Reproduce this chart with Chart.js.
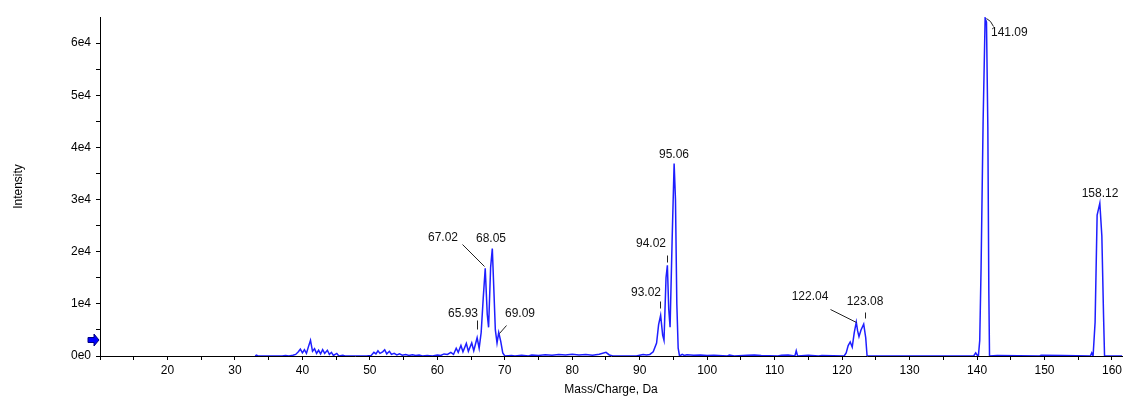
<!DOCTYPE html>
<html>
<head>
<meta charset="utf-8">
<script src="https://cdn.jsdelivr.net/npm/chart.js@4.4.1/dist/chart.umd.min.js"></script>
<style>
    html, body { margin: 0; padding: 0; background: #fff; }
    #wrap { width: 1125px; height: 397px; }
</style>
</head>
<body>
<div id="wrap"><canvas id="spectrumChart" width="1125" height="397"></canvas></div>
<script>
// profile spectrum (m/z, counts)
const mzValues = [
    33.0, 33.2, 33.4, 37.0, 37.5, 38.0, 38.6, 39.0, 39.4, 39.7, 40.0, 40.3, 40.6, 40.9, 41.2, 41.5,
    41.8, 42.1, 42.4, 42.7, 43.0, 43.3, 43.7, 44.0, 44.3, 44.6, 45.1, 45.4, 46.0, 46.3,
    49.5, 50.2, 50.6, 50.9, 51.2, 51.5, 51.9, 52.2, 52.5, 52.9, 53.2, 53.6, 54.0, 54.4, 54.8,
    55.3, 55.8, 56.3, 56.8, 57.3, 57.8, 58.5, 59.3,
    60.0, 60.5, 61.0, 61.5, 62.0, 62.4, 62.8, 63.1, 63.5, 63.8, 64.3, 64.6, 65.1, 65.4, 65.9,
    66.2, 66.5, 66.8, 67.1, 67.4, 67.6, 67.9, 68.15, 68.4, 68.6, 68.85, 69.1, 69.4, 69.7, 70.0,
    71.0, 71.5, 72.5, 73.5, 74.0, 75.0, 76.0, 77.0, 78.0, 79.0, 80.0, 81.0, 82.0, 83.0, 84.0,
    85.0, 85.5, 86.0, 89.5, 90.0, 90.5, 91.0, 91.5, 92.0, 92.5, 92.8, 93.1, 93.4, 93.6, 93.9,
    94.1, 94.3, 94.5, 94.8, 95.1, 95.3, 95.5, 95.7, 95.9, 96.3, 96.6, 97.0, 98.0, 99.0, 100.0,
    101.0, 103.0, 103.3, 104.0, 106.0, 107.0, 108.0, 110.5, 111.0, 112.0, 113.0, 113.2, 113.4,
    115.0, 116.5, 117.0, 120.3, 120.6, 120.9, 121.2, 121.5, 121.8, 122.1, 122.3, 122.5, 122.8,
    123.2, 123.5, 123.7, 126.0, 139.5, 139.8, 140.0, 140.2, 140.4, 140.6, 140.9, 141.2, 141.4,
    141.6, 141.75, 141.85, 143.0, 149.3, 149.5, 152.6, 156.8, 157.0, 157.2, 157.5, 157.8, 158.2,
    158.5, 158.75, 158.9, 161.5
];
const intensityValues = [
    0, 150, 0, 0, 100, 0, 150, 300, 800, 1300, 600, 1200, 500, 1800, 3000, 900,
    1400, 500, 1100, 400, 1200, 500, 1100, 300, 700, 100, 500, 0, 150, 0,
    0, 100, 700, 400, 1000, 500, 800, 1200, 400, 900, 300, 500, 200, 400, 150,
    300, 100, 250, 100, 200, 0, 100, 0,
    200, 100, 400, 300, 700, 300, 1500, 700, 2000, 800, 2400, 900, 2500, 1000, 3500,
    1500, 4500, 11000, 16800, 8000, 5500, 17000, 20600, 12000, 5000, 2500, 4500, 2800, 600, 0,
    100, 0, 150, 0, 200, 100, 250, 150, 300, 200, 350, 200, 300, 150, 350,
    700, 200, 0, 0, 150, 300, 200, 300, 800, 2500, 6000, 7800, 4000, 3000, 15000,
    17400, 9000, 5500, 22000, 36900, 30000, 10000, 1500, 0, 300, 100, 250, 150, 200, 100,
    150, 0, 200, 0, 150, 200, 100, 0, 150, 200, 0, 1000, 0,
    150, 0, 100, 0, 600, 2000, 2700, 1700, 4500, 6500, 4800, 3700, 5000,
    6100, 3500, 0, 0, 0, 600, 200, 0, 3000, 17000, 45000, 64800, 64000,
    44000, 12000, 0, 100, 0, 150, 100, 0, 600, 0, 6500, 27000, 29300,
    23000, 7800, 0, 0
];

const peakLabels = ["65.93", "67.02", "68.05", "69.09", "93.02", "94.02", "95.06", "122.04", "123.08", "141.09", "158.12"];
const peakMz = [65.9, 67.1, 68.15, 69.1, 93.1, 94.1, 95.1, 122.1, 123.2, 141.2, 158.2];
const peakIntensity = [3500, 16800, 20600, 4500, 7800, 17400, 36900, 6500, 6100, 64800, 29300];

const xTicks = [10, 15, 20, 25, 30, 35, 40, 45, 50, 55, 60, 65, 70, 75, 80, 85, 90, 95, 100,
    105, 110, 115, 120, 125, 130, 135, 140, 145, 150, 155, 160];
const yTicks = [0, 5000, 10000, 15000, 20000, 25000, 30000, 35000, 40000, 45000, 50000, 55000, 60000];
const thresholdValue = 3000;

const points = mzValues.map((mz, i) => ({ x: mz, y: intensityValues[i] }));

const FONT = "'Liberation Sans', Arial, sans-serif";

// how each peak label sits relative to its peak: text offset, align and a leader or tick
const labelLayout = {
    "65.93": { dx: -14, dy: -24, align: "center", tick: [0, -18, 0, -9] },
    "67.02": { dx: -42, dy: -30, align: "center", line: [-23, -24, -1, -2] },
    "68.05": { dx: -1, dy: -10, align: "center" },
    "69.09": { dx: 6, dy: -19, align: "left", line: [7, -8, 0, 0] },
    "93.02": { dx: -15, dy: -22, align: "center", tick: [-1, -14, -1, -7] },
    "94.02": { dx: -16, dy: -21, align: "center", tick: [0, -10, 0, -3] },
    "95.06": { dx: 0, dy: -9, align: "center" },
    "122.04": { dx: -46, dy: -25, align: "center", line: [-26, -13, 0, 0] },
    "123.08": { dx: 1, dy: -22, align: "center", tick: [1, -12, 1, -6] },
    "141.09": { dx: 6, dy: 15, align: "left", hook: true },
    "158.12": { dx: 0, dy: -9, align: "center" }
};

const peakLabelPlugin = {
    id: "peakLabels",
    afterDatasetsDraw(chart) {
        const ctx = chart.ctx;
        const xs = chart.scales.x;
        const ys = chart.scales.y;
        ctx.save();
        ctx.font = "12px " + FONT;
        ctx.textBaseline = "middle";
        ctx.fillStyle = "#111";
        ctx.strokeStyle = "#222";
        ctx.lineWidth = 1;
        peakLabels.forEach((text, i) => {
            const px = Math.round(xs.getPixelForValue(peakMz[i]));
            const py = Math.round(ys.getPixelForValue(peakIntensity[i]));
            const lay = labelLayout[text];
            ctx.textAlign = lay.align;
            ctx.fillText(text, px + lay.dx, py + lay.dy);
            const seg = lay.line || lay.tick;
            if (seg) {
                ctx.beginPath();
                ctx.moveTo(px + seg[0] + 0.5, py + seg[1] + 0.5);
                ctx.lineTo(px + seg[2] + 0.5, py + seg[3] + 0.5);
                ctx.stroke();
            }
            if (lay.hook) {
                ctx.beginPath();
                ctx.moveTo(px + 1.5, py + 0.5);
                ctx.lineTo(px + 5.5, py + 3.5);
                ctx.lineTo(px + 8.5, py + 8.5);
                ctx.stroke();
            }
        });

        // blue threshold arrow on the intensity axis
        const ay = Math.round(ys.getPixelForValue(thresholdValue));
        const ax = xs.left;
        ctx.fillStyle = "#0000ff";
        ctx.strokeStyle = "#000080";
        ctx.beginPath();
        ctx.moveTo(ax - 12, ay - 2.5);
        ctx.lineTo(ax - 6, ay - 2.5);
        ctx.lineTo(ax - 6, ay - 6);
        ctx.lineTo(ax - 1, ay);
        ctx.lineTo(ax - 6, ay + 6);
        ctx.lineTo(ax - 6, ay + 2.5);
        ctx.lineTo(ax - 12, ay + 2.5);
        ctx.closePath();
        ctx.fill();
        ctx.stroke();
        ctx.restore();
    }
};

const ctx = document.getElementById("spectrumChart").getContext("2d");
const spectrumChart = new Chart(ctx, {
    type: "scatter",
    data: {
        datasets: [
            {
                label: "Spectrum",
                data: points,
                showLine: true,
                borderColor: "rgb(30, 30, 255)",
                borderWidth: 1.5,
                pointRadius: 0,
                tension: 0,
                fill: false,
            },
        ],
    },
    options: {
        responsive: false,
        animation: false,
        devicePixelRatio: 1,
        layout: {
            padding: { top: 17, right: 2, left: 0, bottom: 0 },
        },
        plugins: {
            legend: { display: false },
            tooltip: { enabled: false },
        },
        scales: {
            x: {
                type: "linear",
                min: 10,
                max: 161.5,
                afterBuildTicks: (scale) => {
                    scale.ticks = xTicks.map((v) => ({ value: v }));
                },
                afterFit: (scale) => {
                    scale.height = 41;
                },
                ticks: {
                    autoSkip: false,
                    maxRotation: 0,
                    padding: 3,
                    color: "#000",
                    font: { family: FONT, size: 12 },
                    callback: (value) => (value % 10 === 0 && value > 10 ? String(value) : ""),
                },
                grid: {
                    drawOnChartArea: false,
                    drawTicks: true,
                    tickLength: 4,
                    color: "#000",
                },
                border: { display: true, color: "#000", width: 1 },
                title: {
                    display: true,
                    text: "Mass/Charge, Da",
                    color: "#000",
                    font: { family: FONT, size: 12 },
                    padding: { top: 0, bottom: 0 },
                },
            },
            y: {
                type: "linear",
                min: 0,
                max: 65000,
                afterBuildTicks: (scale) => {
                    scale.ticks = yTicks.map((v) => ({ value: v }));
                },
                afterFit: (scale) => {
                    scale.width = 100;
                },
                ticks: {
                    autoSkip: false,
                    padding: 5,
                    color: "#000",
                    font: { family: FONT, size: 12 },
                    callback: (value) => {
                        if (value === 0) return "0e0";
                        return value % 10000 === 0 ? value / 10000 + "e4" : "";
                    },
                },
                grid: {
                    drawOnChartArea: false,
                    drawTicks: true,
                    tickLength: 4,
                    color: "#000",
                },
                border: { display: true, color: "#000", width: 1 },
                title: {
                    display: true,
                    text: "Intensity",
                    color: "#000",
                    font: { family: FONT, size: 12 },
                    padding: { top: 11, bottom: 0 },
                },
            },
        },
    },
    plugins: [peakLabelPlugin],
});
</script>
</body>
</html>
